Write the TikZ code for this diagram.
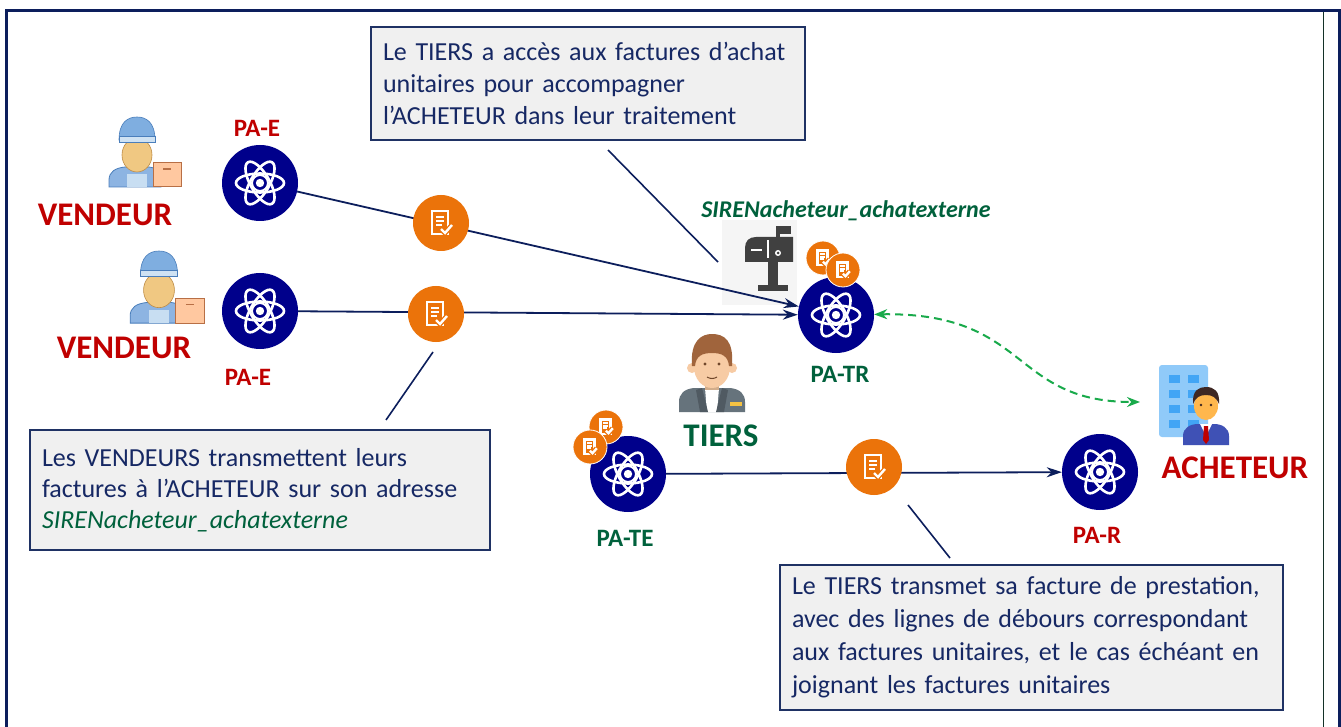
\documentclass[tikz,border=0pt]{standalone}
\usepackage{fontspec}
\setmainfont{Carlito}
\usetikzlibrary{arrows.meta}

\definecolor{navyfill}{RGB}{0,0,139}
\definecolor{navyline}{RGB}{12,30,92}
\definecolor{boxborder}{RGB}{31,50,100}
\definecolor{boxtext}{RGB}{22,40,100}
\definecolor{boxfill}{RGB}{240,240,240}
\definecolor{redlab}{RGB}{192,0,0}
\definecolor{greenlab}{RGB}{0,97,60}
\definecolor{docorange}{RGB}{235,115,10}
\definecolor{dashgreen}{RGB}{25,170,75}
\definecolor{framegreen}{RGB}{20,50,40}
% icon colours
\definecolor{shirtblue}{RGB}{141,180,226}
\definecolor{shirtedge}{RGB}{74,126,187}
\definecolor{bibblue}{RGB}{200,222,242}
\definecolor{skin}{RGB}{240,200,130}
\definecolor{skinedge}{RGB}{190,140,70}
\definecolor{capblue}{RGB}{127,174,224}
\definecolor{brimblue}{RGB}{207,226,243}
\definecolor{boxpeach}{RGB}{255,200,160}
\definecolor{boxedge}{RGB}{184,111,69}
\definecolor{hairbrown}{RGB}{160,100,60}
\definecolor{tskin}{RGB}{247,203,164}
\definecolor{jacket}{RGB}{102,115,124}
\definecolor{jacketdark}{RGB}{80,90,98}
\definecolor{badge}{RGB}{245,194,66}
\definecolor{mailgray}{RGB}{64,64,64}
\definecolor{bldblue}{RGB}{144,202,249}
\definecolor{winblue}{RGB}{66,165,245}
\definecolor{suitblue}{RGB}{63,81,181}
\definecolor{facebuy}{RGB}{255,183,77}
\definecolor{hairdark}{RGB}{62,39,35}

\tikzset{
  pa/.style={circle, fill=navyfill, minimum size=76pt, inner sep=0pt},
  doc/.style={circle, fill=docorange, minimum size=56pt, inner sep=0pt},
  smalldoc/.style={circle, fill=docorange, draw=white, line width=0.8pt, minimum size=34pt, inner sep=0pt},
  flow/.style={draw=navyline, line width=1.8pt, -{Stealth[length=15pt,width=10pt]}},
  pointer/.style={draw=navyline, line width=1.6pt},
  exchange/.style={draw=dashgreen, line width=2pt, dash pattern=on 8pt off 5pt,
    {Stealth[length=13pt,width=10pt]}-{Stealth[length=13pt,width=10pt]}},
  note/.style={draw=boxborder, line width=2pt, fill=boxfill, text=boxtext,
    align=left, inner xsep=12pt, inner ysep=0pt},
  actor/.style={font=\fontsize{33}{36}\selectfont\bfseries, inner sep=0pt},
  palabel/.style={font=\fontsize{25}{28}\selectfont\bfseries, inner sep=0pt},
  atomicon/.pic={
    \foreach \a in {0,60,120}
      \draw[white, line width=2.6pt, rotate=\a] (0,0) ellipse [x radius=24, y radius=9.5];
    \draw[white, line width=2pt] (0,0) circle (8);
    \fill[white] (0,0) circle (4.2);
  },
  docicon/.pic={
    \draw[white, line width=2.4pt] (-9,-12) rectangle (7,11);
    \draw[white, line width=2pt] (-5,-6) -- (3,-6) (-5,-2) -- (3,-2) (-5,2) -- (1,2);
    \draw[docorange, line width=5pt] (0,6) -- (4,10) -- (11,2);
    \draw[white, line width=2.4pt] (0,6) -- (4,10) -- (11,2);
  },
  seller/.pic={
    \filldraw[fill=shirtblue, draw=shirtedge, line width=0.8pt]
      (-28,37) -- (-28,30) .. controls (-28,22) and (-22,18) .. (-12,17)
      -- (12,17) .. controls (20,18) and (24,22) .. (24,30) -- (24,37) -- cycle;
    \fill[bibblue] (-10,24) rectangle (10,37);
    \fill[skin] (-6,12) rectangle (6,19);
    \filldraw[fill=skin, draw=skinedge, line width=0.6pt] (0,5) ellipse [x radius=15, y radius=17];
    \filldraw[fill=capblue, draw=shirtedge, line width=0.6pt]
      (-18,-10) .. controls (-18,-28) and (-9,-33) .. (0,-33)
      .. controls (9,-33) and (18,-28) .. (18,-10) -- cycle;
    \filldraw[fill=brimblue, draw=shirtedge, line width=0.6pt] (-18,-14) rectangle (18,-8);
    \filldraw[fill=boxpeach, draw=boxedge, line width=1pt] (16,13) rectangle (44,37);
    \draw[boxedge, line width=1.4pt] (26,19) -- (34,19);
  },
  thirdparty/.pic={
    \fill[jacket] (-33,42) -- (-33,32) .. controls (-33,24) and (-28,19) .. (-18,18)
      -- (18,18) .. controls (28,19) and (33,24) .. (33,32) -- (33,42) -- cycle;
    \fill[white] (-7,18) -- (7,18) -- (5,42) -- (-5,42) -- cycle;
    \fill[jacketdark] (-10,18) -- (-4,42) -- (-12,42) -- (-16,20) -- cycle;
    \fill[jacketdark] (10,18) -- (4,42) -- (12,42) -- (16,20) -- cycle;
    \fill[tskin!85!black] (-7,6) rectangle (7,20);
    \fill[tskin] (-20,-2) circle (5) (20,-2) circle (5);
    \fill[tskin] (0,-3) ellipse [x radius=18, y radius=21];
    \fill[hairbrown] (-20,-4) .. controls (-22,-30) and (-10,-36) .. (0,-36)
      .. controls (12,-36) and (22,-30) .. (20,-4) -- (17,-4)
      .. controls (16,-14) and (10,-17) .. (0,-17)
      .. controls (-10,-17) and (-16,-14) .. (-17,-4) -- cycle;
    \fill[hairbrown!70!black] (-7,-6) circle (1.6) (7,-6) circle (1.6);
    \draw[hairbrown!70!black, line width=1pt] (-5,7) .. controls (-2,9) and (2,9) .. (5,7);
    \fill[badge] (18,32) rectangle (30,36);
  }
}

\begin{document}
\begin{tikzpicture}[x=1pt, y=-1pt]
  \useasboundingbox (0,0) rectangle (1341,727);
  \fill[white] (0,0) rectangle (1341,727);

  % page frame
  \draw[navyline, line width=3pt] (6,740) -- (6,11) -- (1339,11) -- (1339,740);
  \draw[framegreen, line width=1pt] (1323,12) -- (1323,740);

  % explanatory notes
  \node[note, minimum width=434pt, minimum height=113pt, text width=410pt,
        font=\fontsize{26}{32}\selectfont] (noteA) at (588,83.5)
    {Le TIERS a accès aux factures d’achat\\ unitaires pour accompagner\\ l’ACHETEUR dans leur traitement};
  \node[note, minimum width=460pt, minimum height=120pt, text width=436pt,
        font=\fontsize{26}{31}\selectfont] (noteB) at (260,490)
    {Les VENDEURS transmettent leurs\\ factures à l’ACHETEUR sur son adresse\\
     \textcolor{greenlab}{\itshape SIRENacheteur\_achatexterne}};
  \node[note, minimum width=503pt, minimum height=145pt, text width=479pt,
        font=\fontsize{26}{33}\selectfont] (noteC) at (1031.5,637.5)
    {Le TIERS transmet sa facture de prestation,\\ avec des lignes de débours correspondant\\
     aux factures unitaires, et le cas échéant en\\ joignant les factures unitaires};

  % pointer ends
  \coordinate (pA1) at (608,150);  \coordinate (pA2) at (718,262);
  \coordinate (pB1) at (433,352);  \coordinate (pB2) at (386,420);
  \coordinate (pC1) at (908,505);  \coordinate (pC2) at (950,558);
  \draw[pointer] (pA1) -- (pA2);
  \draw[pointer] (pB1) -- (pB2);
  \draw[pointer] (pC1) -- (pC2);

  % mailbox of the external purchase address
  \fill[black!4] (722,220) rectangle (797,305);
  \fill[mailgray] (745,262) -- (745,248) .. controls (745,241) and (749,237) .. (756,237)
    -- (793,237) -- (793,262) -- cycle;
  \draw[white, line width=1.6pt] (751,250) -- (762,250);
  \draw[white, line width=1.4pt] (768,240) -- (768,258);
  \fill[mailgray] (768,262) rectangle (778,287);
  \fill[mailgray] (758,285) rectangle (788,291);
  \fill[mailgray] (776,226) rectangle (780,252);
  \fill[mailgray] (776,226) rectangle (791,234);
  \fill[white] (778,253) circle (3);
  \fill[mailgray] (778,253) circle (1.5);

  % platforms
  \node[pa] (pae1) at (260,183) {};
  \node[pa] (pae2) at (260,311) {};
  \node[pa] (patr) at (836,315) {};
  \node[pa] (pate) at (628,474) {};
  \node[pa] (par)  at (1100,472) {};
  \foreach \n in {pae1,pae2,patr,pate,par} \pic at (\n) {atomicon};

  % invoice flows
  \draw[flow] (pae1) -- (patr);
  \draw[flow] (pae2) -- (patr);
  \draw[flow] (pate) -- (par);

  % invoices in transit
  \node[doc] (d1) at (441,223) {};
  \node[doc] (d2) at (436,314) {};
  \node[doc] (d3) at (874,467) {};
  \foreach \n in {d1,d2,d3} \pic at (\n) {docicon};

  % invoices held by the platforms
  \node[smalldoc] (s1) at (823,258) {};
  \pic[scale=0.62] at (s1) {docicon};
  \node[smalldoc] (s2) at (843,270) {};
  \pic[scale=0.62] at (s2) {docicon};
  \node[smalldoc] (s3) at (606,427) {};
  \pic[scale=0.62] at (s3) {docicon};
  \node[smalldoc] (s4) at (590,447) {};
  \pic[scale=0.62] at (s4) {docicon};

  % buyer: building and person
  \fill[bldblue, rounded corners=3pt] (1159,365) rectangle (1208,437);
  \foreach \wx in {1169,1188}
    \foreach \wy in {375,390,405,420}
      \fill[winblue] (\wx,\wy) rectangle ++(11,8);
  \fill[suitblue] (1183,445) -- (1183,436) .. controls (1183,428) and (1190,424) .. (1198,424)
    -- (1214,424) .. controls (1222,424) and (1229,428) .. (1229,436) -- (1229,445) -- cycle;
  \fill[white] (1200,424) -- (1212,424) -- (1206,436) -- cycle;
  \fill[red!75!black] (1204,426) -- (1208,426) -- (1209,440) -- (1206,444) -- (1203,440) -- cycle;
  \fill[facebuy] (1206,406) ellipse [x radius=12, y radius=14];
  \fill[hairdark] (1193,404) .. controls (1192,390) and (1199,387) .. (1206,387)
    .. controls (1214,387) and (1220,391) .. (1219,404)
    .. controls (1216,397) and (1212,395) .. (1206,395)
    .. controls (1200,395) and (1196,397) .. (1193,404) -- cycle;
  \fill[hairdark] (1201,405) circle (1.4) (1211,405) circle (1.4);
  \coordinate (buyer) at (1140,402);

  % exchange between the platform and the buyer
  \draw[exchange] (patr) .. controls (1030,312) and (1010,402) .. (buyer);

  % sellers and third party
  \pic at (137,150) {seller};
  \pic[scale=1.03] at (159,285) {seller};
  \pic at (712,370) {thirdparty};

  % actor labels
  \node[actor, text=redlab] (v1) at (105,215) {VENDEUR};
  \node[actor, text=redlab] (v2) at (124,348) {VENDEUR};
  \node[actor, text=greenlab] (tiers) at (721,436) {TIERS};
  \node[actor, text=redlab] (ach) at (1235,468) {ACHETEUR};

  % platform labels
  \node[palabel, text=redlab] at (257,128) {PA-E};
  \node[palabel, text=redlab] at (248,377) {PA-E};
  \node[palabel, text=greenlab] at (840,374) {PA-TR};
  \node[palabel, text=greenlab] at (625,538) {PA-TE};
  \node[palabel, text=redlab] at (1097,535) {PA-R};

  % address label
  \node[font=\fontsize{24}{27}\selectfont\bfseries\itshape, text=greenlab, inner sep=0pt]
    at (846,211) {SIRENacheteur\_achatexterne};
\end{tikzpicture}
\end{document}
